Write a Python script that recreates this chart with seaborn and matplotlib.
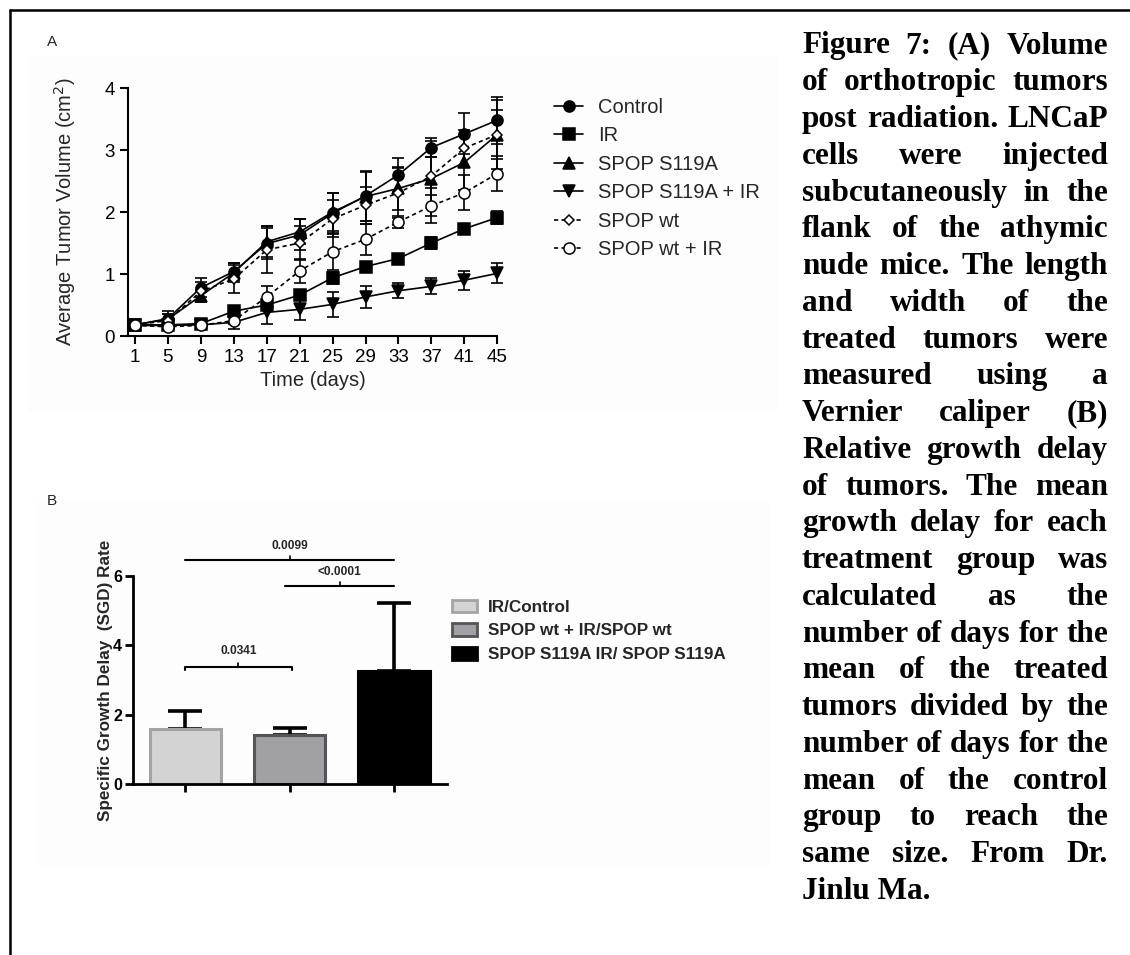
import numpy as np
import pandas as pd
import matplotlib
matplotlib.use("Agg")
import matplotlib.pyplot as plt
import seaborn as sns
from matplotlib.patches import Rectangle, Patch

# ---------------- data ----------------
days = [1, 5, 9, 13, 17, 21, 25, 29, 33, 37, 41, 45]
control = [0.18, 0.28, 0.78, 1.04, 1.49, 1.63, 1.98, 2.26, 2.60, 3.04, 3.26, 3.48]
control_err = [0.03, 0.12, 0.15, 0.13, 0.25, 0.25, 0.33, 0.40, 0.27, 0.15, 0.33, 0.38]
ir = [0.18, 0.18, 0.20, 0.40, 0.50, 0.66, 0.94, 1.12, 1.25, 1.50, 1.73, 1.91]
ir_err = [0.02, 0.03, 0.04, 0.06, 0.08, 0.06, 0.10, 0.06, 0.05, 0.10, 0.08, 0.10]
s119a = [0.18, 0.27, 0.65, 1.02, 1.52, 1.68, 2.00, 2.25, 2.38, 2.54, 2.80, 3.25]
s119a_err = [0.03, 0.08, 0.10, 0.15, 0.25, 0.20, 0.30, 0.40, 0.35, 0.60, 0.45, 0.55]
s119a_ir = [0.17, 0.17, 0.18, 0.22, 0.38, 0.43, 0.51, 0.63, 0.73, 0.80, 0.90, 1.01]
s119a_ir_err = [0.02, 0.03, 0.03, 0.10, 0.18, 0.17, 0.20, 0.18, 0.12, 0.13, 0.15, 0.16]
wt = [0.18, 0.25, 0.72, 0.92, 1.39, 1.50, 1.89, 2.11, 2.31, 2.58, 3.03, 3.25]
wt_err = [0.03, 0.10, 0.15, 0.23, 0.38, 0.27, 0.30, 0.30, 0.40, 0.30, 0.30, 0.40]
wt_ir = [0.17, 0.15, 0.17, 0.25, 0.63, 1.05, 1.36, 1.56, 1.84, 2.10, 2.31, 2.62]
wt_ir_err = [0.02, 0.03, 0.03, 0.06, 0.17, 0.20, 0.30, 0.25, 0.10, 0.28, 0.28, 0.28]
series_names = ["Control", "IR", "SPOP S119A", "SPOP S119A + IR", "SPOP wt", "SPOP wt + IR"]
x_ticks_a = [1, 5, 9, 13, 17, 21, 25, 29, 33, 37, 41, 45]
y_ticks_a = [0, 1, 2, 3, 4]

groups = ["IR/Control", "SPOP wt + IR/SPOP wt", "SPOP S119A IR/ SPOP S119A"]
sgd = [1.58, 1.42, 3.25]
sgd_err = [0.52, 0.19, 1.98]
y_ticks_b = [0, 2, 4, 6]
p_labels = ["0.0341", "0.0099", "<0.0001"]

caption_lines = [
    "Figure 7: (A) Volume", "of orthotropic tumors", "post radiation. LNCaP",
    "cells were injected", "subcutaneously in the", "flank of the athymic",
    "nude mice. The length", "and width of the", "treated tumors were",
    "measured using a", "Vernier caliper (B)", "Relative growth delay",
    "of tumors. The mean", "growth delay for each", "treatment group was",
    "calculated as the", "number of days for the", "mean of the treated",
    "tumors divided by the", "number of days for the", "mean of the control",
    "group to reach the", "same size. From Dr.", "Jinlu Ma.",
]

# ---------------- figure ----------------
sns.set_style("white")
plt.rcParams["font.family"] = ["Liberation Sans", "DejaVu Sans"]
W, H = 1130, 955
fig = plt.figure(figsize=(W / 100, H / 100), dpi=100)
fig.patch.set_facecolor("white")


def fx(px):
    return px / W


def fy(py):
    return 1 - py / H


# faint pasted-image backgrounds
fig.add_artist(Rectangle((fx(28), fy(412)), fx(778 - 28), (412 - 55) / H,
                         transform=fig.transFigure, facecolor="#fdfdfd", edgecolor="none", zorder=0))
fig.add_artist(Rectangle((fx(37), fy(867)), fx(770 - 37), (867 - 500) / H,
                         transform=fig.transFigure, facecolor="#fdfdfd", edgecolor="none", zorder=0))

# frame lines (left and top)
fig.add_artist(plt.Line2D([fx(9.5), fx(9.5)], [fy(10.5), 0], transform=fig.transFigure,
                          color="black", lw=1.8))
fig.add_artist(plt.Line2D([fx(9.5), 1], [fy(10.5), fy(10.5)], transform=fig.transFigure,
                          color="black", lw=1.8))

# ---------------- panel A ----------------
axA = fig.add_axes([fx(127.7), fy(336), fx(497.3 - 127.7), (336 - 88) / H])
axA.set_facecolor("none")
vals = [control, ir, s119a, s119a_ir, wt, wt_ir]
errs = [control_err, ir_err, s119a_err, s119a_ir_err, wt_err, wt_ir_err]
markers = ["o", "s", "^", "v", "D", "o"]
msizes = [8, 8, 8, 8, 5.5, 8]
fills = ["black", "black", "black", "black", "white", "white"]
styles = ["-", "-", "-", "-", (0, (2.5, 2)), (0, (2.5, 2))]
for name, v, e, mk, ms, fc, ls in zip(series_names, vals, errs, markers, msizes, fills, styles):
    axA.errorbar(days, v, yerr=e, fmt="none", ecolor="black", elinewidth=1.2,
                 capsize=4, capthick=1.2, clip_on=False, zorder=2)
    sns.lineplot(x=days, y=v, ax=axA, color="black", marker=mk, markersize=ms,
                 markerfacecolor=fc, markeredgecolor="black", markeredgewidth=1.1,
                 linestyle=ls, linewidth=1.2, label=name, clip_on=False, zorder=3)

axA.set_xlim(0.113, 45)
axA.set_ylim(0, 4)
axA.set_xticks(x_ticks_a)
axA.set_yticks(y_ticks_a)
axA.tick_params(axis="both", direction="out", length=6, width=1.5, labelsize=13.5,
                colors="black", pad=3, left=True, bottom=True)
for s in ["top", "right"]:
    axA.spines[s].set_visible(False)
for s in ["left", "bottom"]:
    axA.spines[s].set_linewidth(1.5)
    axA.spines[s].set_color("black")
axA.set_xlabel("Time (days)", fontsize=14.5, labelpad=4)
axA.set_ylabel("Average Tumor Volume (cm$^2$)", fontsize=14.5, labelpad=19)
axA.legend(loc="upper left", bbox_to_anchor=(fx(554), fy(98)), bbox_transform=fig.transFigure,
           frameon=False, fontsize=14.5, handlelength=1.45, handletextpad=0.75,
           labelspacing=0.47, borderpad=0, borderaxespad=0)

fig.text(fx(47), fy(42), "A", fontsize=11, va="center", ha="left")

# ---------------- panel B ----------------
axB = fig.add_axes([fx(133), fy(784), fx(447 - 133), (784 - 576) / H])
axB.set_facecolor("none")
bar_faces = ["#d3d3d3", "#a1a1a5", "#000000"]
bar_edges = ["#a3a3a3", "#555555", "#000000"]
dfB = pd.DataFrame({"group": groups, "sgd": sgd})
sns.barplot(data=dfB, x="group", y="sgd", hue="group", palette=bar_faces, width=0.68,
            ax=axB, legend=False, errorbar=None, zorder=2)
for patch, ec in zip(axB.patches, bar_edges):
    patch.set_edgecolor(ec)
    patch.set_linewidth(2.2)
axB.errorbar(range(len(groups)), sgd, yerr=[np.zeros(len(sgd)), sgd_err], fmt="none",
             ecolor="black", elinewidth=2.6, capsize=12.5, capthick=2.6, zorder=1, clip_on=False)
axB.set_xlim(-0.498, 2.507)
axB.set_ylim(0, 6)
axB.set_yticks(y_ticks_b)
axB.set_xticks(range(3))
axB.set_xticklabels([])
axB.set_xlabel("")
axB.tick_params(axis="both", direction="out", length=6, width=2, colors="black",
                left=True, bottom=True)
axB.tick_params(axis="y", labelsize=11.5, pad=2)
for lab in axB.get_yticklabels():
    lab.set_fontweight("bold")
for s in ["top", "right"]:
    axB.spines[s].set_visible(False)
for s in ["left", "bottom"]:
    axB.spines[s].set_linewidth(2)
    axB.spines[s].set_color("black")
axB.set_ylabel("Specific Growth Delay  (SGD) Rate", fontsize=12.3, fontweight="bold", labelpad=0)


def bracket(ax, x0, x1, y, label, end_ticks, text_y):
    xs = [x0, x0, x1, x1] if end_ticks else [x0, x1]
    ys = [y - 0.1, y, y, y - 0.1] if end_ticks else [y, y]
    ax.plot(xs, ys, color="black", lw=1.5, clip_on=False)
    xm = (x0 + x1) / 2
    ax.plot([xm, xm], [y, y + 0.12], color="black", lw=1.2, clip_on=False)
    ax.text(xm, text_y, label, ha="center", va="center", fontsize=8.6, fontweight="bold")


bracket(axB, 0, 1.02, 3.38, p_labels[0], True, 3.84)
bracket(axB, 0, 2, 6.45, p_labels[1], False, 6.87)
bracket(axB, 0.96, 2, 5.72, p_labels[2], False, 6.11)

handles = [Patch(facecolor=f, edgecolor=e, linewidth=2) for f, e in zip(bar_faces, bar_edges)]
axB.legend(handles, groups, loc="upper left", bbox_to_anchor=(fx(452), fy(599.5)),
           bbox_transform=fig.transFigure, frameon=False,
           prop={"weight": "bold", "size": 12.3}, handlelength=1.45, handleheight=0.75,
           handletextpad=0.65, labelspacing=0.5, borderpad=0, borderaxespad=0)

fig.text(fx(47), fy(501), "B", fontsize=11, va="center", ha="left")

# ---------------- caption (justified) ----------------
renderer = fig.canvas.get_renderer()
cap_kw = dict(fontsize=22.5, fontweight="bold", family=["Liberation Serif", "DejaVu Serif"],
              va="baseline", ha="left", color="black")
x_left, x_right = 802.0, 1108.0
base0, step = 53.5, 36.75
for i, line in enumerate(caption_lines):
    yb = base0 + i * step
    words = line.split(" ")
    if i == len(caption_lines) - 1 or len(words) == 1:
        fig.text(fx(x_left), fy(yb), line, **cap_kw)
        continue
    tmp = [fig.text(0, 0, w, **cap_kw) for w in words]
    widths = [t.get_window_extent(renderer).width for t in tmp]
    for t in tmp:
        t.remove()
    gap = (x_right - x_left - sum(widths)) / (len(words) - 1)
    x = x_left
    for w, wd in zip(words, widths):
        fig.text(fx(x), fy(yb), w, **cap_kw)
        x += wd + gap

fig.savefig("out.png", dpi=100, facecolor="white")
